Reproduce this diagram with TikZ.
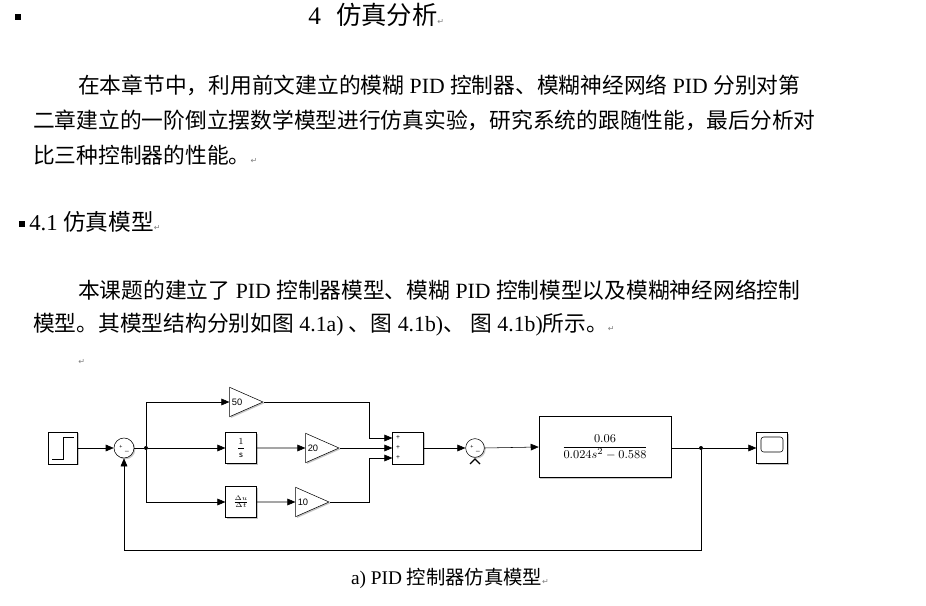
\documentclass[tikz,border=0pt]{standalone}
\usepackage{amsmath}
\usepackage{fontspec}
\setmainfont{Liberation Serif}
\newfontfamily\cjk{Noto Sans CJK SC}
\newfontfamily\sfb{Liberation Sans}
\newfontfamily\dv{DejaVu Sans}
\usetikzlibrary{shapes.geometric,shadows,arrows.meta}
\newcommand{\zh}[1]{{\cjk #1}}
\newcommand{\ret}{{\dv\color{gray}\fontsize{6}{6}\selectfont ↵}}
\begin{document}
\begin{tikzpicture}
    [x=0.75pt, y=-0.75pt,
    txt/.style={anchor=west, inner sep=0, font=\fontsize{16.3}{18}\selectfont},
    blk/.style={draw, fill=white, thin, inner sep=0, font=\sfb\fontsize{7}{8}\selectfont,
        drop shadow={shadow xshift=1pt, shadow yshift=-1pt, fill=gray!45, opacity=1}},
    gain/.style={blk, isosceles triangle, isosceles triangle stretches, minimum width=22pt,
        minimum height=25pt, align=left},
    summ/.style={blk, circle, minimum size=15pt},
    sig/.style={-{Triangle[length=6pt,width=5pt]}, thin},
    wire/.style={thin},
    dot/.style={circle, fill, inner sep=0, minimum size=3pt}]

    \useasboundingbox (0,0) rectangle (926,606);

    % headings and text
    \node[inner sep=0] (b1) at (18,17) {\rule{4pt}{4pt}};
    \node[txt, font=\fontsize{19}{21}\selectfont] (h1) at (308,15) {4\hspace{0.6em}\zh{仿真分析}\ret};
    \node[txt] (p1) at (78,85) {\zh{在本章节中，利用前文建立的模糊} PID \zh{控制器、模糊神经网络} PID \zh{分别对第}};
    \node[txt] (p2) at (33,120) {\zh{二章建立的一阶倒立摆数学模型进行仿真实验，研究系统的跟随性能，最后分析对}};
    \node[txt] (p3) at (33,155) {\zh{比三种控制器的性能。}\ret};
    \node[inner sep=0] (b2) at (22,224) {\rule{4pt}{4pt}};
    \node[txt, font=\fontsize{17}{19}\selectfont] (h2) at (29,222) {4.1 \zh{仿真模型}\ret};
    \node[txt] (q1) at (78,290) {\zh{本课题的建立了} PID \zh{控制器模型、模糊} PID \zh{控制模型以及模糊神经网络控制}};
    \node[txt] (q2) at (33,325) {\zh{模型。其模型结构分别如图} 4.1a) \zh{、图} 4.1b)\zh{、} \zh{图} 4.1b)\zh{所示。}\ret};
    \node[txt] (q3) at (78,362) {\ret};

    % blocks
    \node[blk, minimum width=22pt, minimum height=24pt] (step) at (63,448) {};
    \draw[thin] (52,459) -- (63,459) -- (63,437) -- (74,437);
    \node[summ] (s1) at (124,448) {};
    \node[font=\sfb\fontsize{4}{4}\selectfont] at (121,447) {+};
    \node[font=\sfb\fontsize{5}{5}\selectfont] at (127,451) {\_};
    \node[dot] (d1) at (146,448) {};
    \node[gain] (kp) at (241,402) {50\hspace{6pt}};
    \node[blk, minimum width=23pt, minimum height=23pt] (int) at (241,448) {$\displaystyle\frac{1}{\mathsf{s}}$};
    \node[gain] (ki) at (317,448) {20\hspace{6pt}};
    \node[blk, minimum width=23pt, minimum height=23pt, font=\fontsize{7}{8}\selectfont\bfseries] (der) at (241,502) {$\frac{\Delta u}{\Delta t}$};
    \node[gain] (kd) at (307,502) {10\hspace{6pt}};
    \node[blk, minimum width=23pt, minimum height=24pt] (add) at (408,448) {};
    \foreach \yy in {438,448,458}
        \node[font=\sfb\fontsize{5}{5}\selectfont] at (398,\yy) {+};
    \node[summ, minimum size=14pt] (s2) at (475,448) {};
    \node[font=\sfb\fontsize{4}{4}\selectfont] at (472,447) {+};
    \node[font=\sfb\fontsize{5}{5}\selectfont] at (478,451) {\_};
    \draw[line width=1pt] (470,464) -- (475,459) -- (480,464);
    \node[blk, minimum width=99pt, minimum height=46pt, font=\fontsize{9.5}{10}\selectfont] (plant) at (605,447)
        {$\dfrac{0.06}{0.024s^2-0.588}$};
    \node[dot] (d2) at (701,448) {};
    \node[blk, minimum width=23pt, minimum height=23pt] (scope) at (772,448) {};
    \draw[thin, rounded corners=2pt] (761,437) rectangle (783,452);

    % connectors
    \draw[sig] (step) -- (s1);
    \draw[wire] (s1) -- (d1);
    \draw[sig] (d1) -- (int);
    \draw[sig] (d1) |- (kp.west);
    \draw[sig] (d1) |- (der);
    \draw[sig] (int) -- (ki.west);
    \draw[sig] (der) -- (kd.west);
    \draw[sig] (kp.east) -- (369,402) |- (add.west |- 0,438);
    \draw[sig] (ki.east) -- (add);
    \draw[sig] (kd.east) -- (369,502) |- (add.west |- 0,458);
    \draw[sig] (add) -- (s2);
    \draw[sig] (s2.east) -- (plant.west);
    \draw[wire] (plant.east |- d2) -- (d2);
    \draw[sig] (d2) -- (scope);
    \draw[sig] (d2) -- (701,550) -| (s1.south);

    \node[font=\fontsize{14.5}{16}\selectfont] (cap) at (450,578) {a) PID \zh{控制器仿真模型}\ret};
\end{tikzpicture}
\end{document}
